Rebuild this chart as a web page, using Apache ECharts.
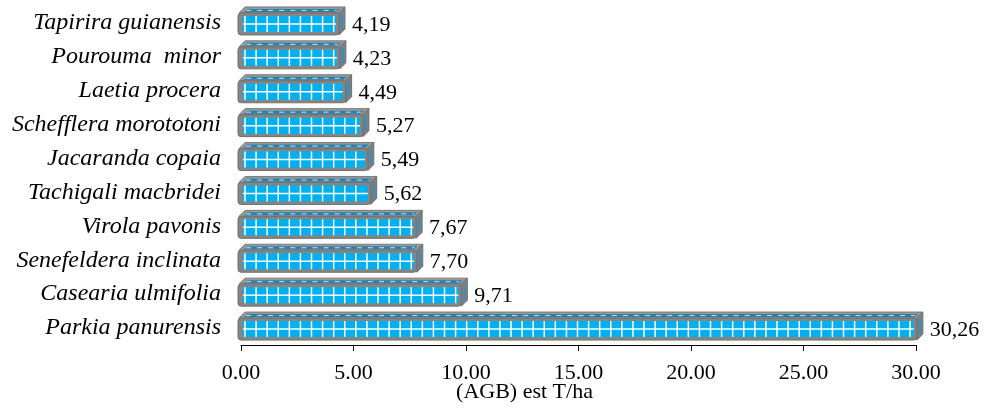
<!DOCTYPE html>
<html>
<head>
<meta charset="utf-8">
<script src="https://cdn.jsdelivr.net/npm/echarts@6/dist/echarts.min.js"></script>
<style>
  html, body { margin: 0; padding: 0; background: #ffffff; }
  #chart { width: 984px; height: 408px; }
</style>
</head>
<body>
<div id="chart"></div>
<script>
// Species, listed top to bottom
var species = [
  'Tapirira guianensis',
  'Pourouma  minor',
  'Laetia procera',
  'Schefflera morototoni',
  'Jacaranda copaia',
  'Tachigali macbridei',
  'Virola pavonis',
  'Senefeldera inclinata',
  'Casearia ulmifolia',
  'Parkia panurensis'
];

// Estimated above-ground biomass, T/ha
var agb = [4.19, 4.23, 4.49, 5.27, 5.49, 5.62, 7.67, 7.70, 9.71, 30.26];

// Value axis ticks
var axisMin = 0;
var axisMax = 30;
var axisStep = 5;

var SERIF = "'Liberation Serif', 'Times New Roman', serif";

// Draws one bevelled 3D box per species: front face with a gridded blue
// panel, a slanted top face and a narrow right face.
function renderBox(params, api) {
  var value = api.value(0);
  var idx = api.value(1);
  var end = api.coord([value, idx]);
  var base = api.coord([-0.5, idx]);
  var cellW = api.size([0.5, 0])[0];
  var yc = end[1] + 1;
  var X = end[0];
  var x0 = base[0] - 3;
  var d = 6;          // depth of the box
  var h = 11;         // half height of the front face
  var frontR = X - d;

  var children = [];

  // top face
  children.push({
    type: 'polygon',
    shape: { points: [[x0 + 1, yc - h], [x0 + 1 + d, yc - h - d], [X, yc - h - d], [frontR, yc - h]] },
    style: { fill: '#9a9a9a', stroke: '#7a7a7a', lineWidth: 1 }
  });
  // dark stripe on the top face
  children.push({
    type: 'polygon',
    shape: { points: [[x0 + 6, yc - h - 1], [x0 + 9, yc - h - 4], [X - 5, yc - h - 4], [frontR - 2, yc - h - 1]] },
    style: { fill: '#2b7fab' }
  });
  children.push({
    type: 'line',
    shape: { x1: x0 + 8, y1: yc - h - 2.5, x2: frontR - 2, y2: yc - h - 2.5 },
    style: { stroke: '#bfe4f5', lineWidth: 1, lineDash: [5, cellW - 5] }
  });
  // right face
  children.push({
    type: 'polygon',
    shape: { points: [[frontR, yc - h], [X, yc - h - d], [X, yc + h - d], [frontR, yc + h]] },
    style: { fill: '#808080', stroke: '#6e6e6e', lineWidth: 1 }
  });
  children.push({
    type: 'line',
    shape: { x1: frontR + d / 2, y1: yc - h + 1, x2: frontR + d / 2, y2: yc + h - 6 },
    style: { stroke: '#2e8fc6', lineWidth: 2 }
  });
  // front face frame
  children.push({
    type: 'rect',
    shape: { x: x0, y: yc - h, width: frontR - x0, height: 2 * h, r: 3 },
    style: { fill: '#858585', stroke: '#707070', lineWidth: 1 }
  });
  // blue panel
  var px = x0 + 5;
  var pw = frontR - 3 - px;
  children.push({
    type: 'rect',
    shape: { x: px, y: yc - 8, width: pw, height: 16 },
    style: { fill: '#00b0f0' }
  });
  // white grid on the panel
  for (var gx = px + 2; gx < px + pw - 1; gx += cellW) {
    children.push({
      type: 'line',
      shape: { x1: gx, y1: yc - 8, x2: gx, y2: yc + 8 },
      style: { stroke: '#ffffff', lineWidth: 1.5 }
    });
  }
  children.push({
    type: 'line',
    shape: { x1: px, y1: yc, x2: px + pw, y2: yc },
    style: { stroke: '#ffffff', lineWidth: 1.5 }
  });
  // value label
  children.push({
    type: 'text',
    x: X + 7,
    y: yc + 1,
    style: {
      text: value.toFixed(2).replace('.', ','),
      font: '22px ' + SERIF,
      fill: '#000000',
      verticalAlign: 'middle',
      align: 'left'
    }
  });

  return { type: 'group', children: children };
}

var chart = echarts.init(document.getElementById('chart'), null, { renderer: 'canvas' });

chart.setOption({
  backgroundColor: '#ffffff',
  animation: false,
  grid: {
    left: 241, right: 68, top: 6, bottom: 63,
    containLabel: false,
    outerBoundsMode: 'none'
  },
  xAxis: [
    {
      type: 'value',
      min: axisMin,
      max: axisMax,
      interval: axisStep,
      name: '(AGB) est T/ha',
      nameLocation: 'middle',
      nameGap: 36,
      nameMoveOverlap: false,
      nameTextStyle: {
        fontFamily: SERIF,
        fontSize: 22,
        color: '#000000',
        padding: [0, 108, 0, 0]
      },
      axisLine: { show: true, lineStyle: { color: '#000000', width: 1 } },
      axisTick: { show: true, length: 6, lineStyle: { color: '#000000' } },
      axisLabel: {
        fontFamily: SERIF,
        fontSize: 22,
        color: '#000000',
        margin: 17,
        formatter: function (v) { return v.toFixed(2); }
      },
      splitLine: { show: false }
    },
    {
      // depth-shifted scale used by the 3D boxes
      type: 'value',
      min: -0.5,
      max: 29.95,
      show: false,
      splitLine: { show: false }
    }
  ],
  yAxis: {
    type: 'category',
    inverse: true,
    data: species,
    axisLine: { show: false },
    axisTick: { show: false },
    axisLabel: {
      fontFamily: SERIF,
      fontStyle: 'italic',
      fontSize: 24,
      color: '#000000',
      margin: 20
    }
  },
  series: [{
    type: 'custom',
    xAxisIndex: 1,
    yAxisIndex: 0,
    clip: false,
    renderItem: renderBox,
    encode: { x: 0, y: 1 },
    data: agb.map(function (v, i) { return [v, i]; })
  }]
});
</script>
</body>
</html>
